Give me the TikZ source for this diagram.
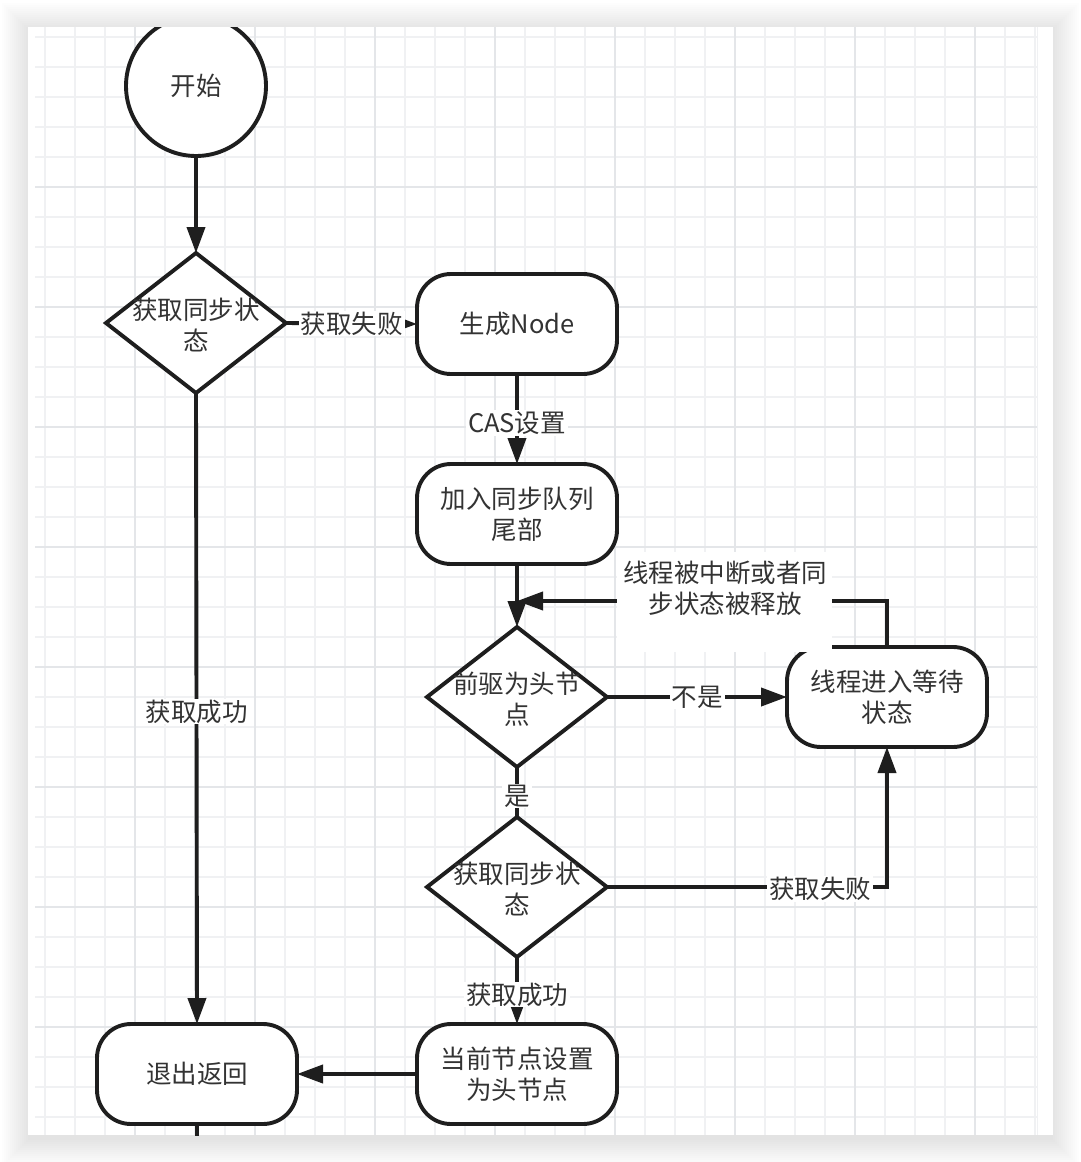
\documentclass[tikz,border=0pt]{standalone}
\usepackage{fontspec}
\setmainfont{Noto Sans CJK SC}
\usetikzlibrary{arrows.meta,shapes.geometric}
\definecolor{linec}{HTML}{1E1E1E}
\definecolor{textc}{HTML}{333333}
\definecolor{gridminor}{HTML}{F0F1F3}
\definecolor{gridmajor}{HTML}{E4E6E9}
\tikzset{
  f/.style={font=\fontsize{25.5}{31}\selectfont},
  box/.style={f, draw=linec, line width=3.9pt, rounded corners=34pt, minimum width=200pt, minimum height=100pt, fill=white, inner sep=0pt, outer sep=0pt, align=center, text=textc},
  dec/.style={draw=linec, line width=3.9pt, shape=diamond, minimum width=180pt, minimum height=140pt, inner sep=0pt, outer sep=0pt, fill=white},
  startc/.style={f, draw=linec, line width=3.9pt, circle, minimum size=140pt, inner sep=0pt, outer sep=0pt, fill=white, text=textc},
  txt/.style={f, text=textc, align=center, inner sep=0pt},
  conn/.style={draw=linec, line width=3.9pt, -{Triangle[length=26pt,width=18pt]}},
  plain/.style={draw=linec, line width=3.9pt},
  lab/.style={f, fill=white, text=textc, inner xsep=2pt, inner ysep=1pt, align=center}
}
\begin{document}
\begin{tikzpicture}[x=1pt,y=-1pt]
\useasboundingbox (0,0) rectangle (1080,1162);
\fill[white] (0,0) rectangle (1080,1162);
% shadow
\foreach \i in {0,...,13} {
  \fill[black, opacity=0.008] (28-2*\i, 29-2*\i) rectangle (1053+2*\i, 1140+2*\i);
}
% frame
\fill[white] (28,27) rectangle (1053,1135);
\begin{scope}
\clip (35,27) rectangle (1037,1135);
\foreach \x in {45,75,...,1035} { \draw[gridminor, line width=1.4pt] (\x,27) -- (\x,1135); }
\foreach \y in {37,67,...,1135} { \draw[gridminor, line width=1.4pt] (35,\y) -- (1037,\y); }
\foreach \x in {135,255,...,1035} { \draw[gridmajor, line width=1.6pt] (\x,27) -- (\x,1135); }
\foreach \y in {187,307,...,1135} { \draw[gridmajor, line width=1.6pt] (35,\y) -- (1037,\y); }
\end{scope}
\draw[gridminor, line width=1pt] (1037,27) -- (1037,1135);

\begin{scope}
\clip (28,27) rectangle (1053,1135);
% nodes
\node[startc] (start) at (196,86) {开始};
\node[dec] (dec1) at (196,323) {};
\node[txt] (t1) at (196,325) {获取同步状\\态};
\node[box] (gen) at (517,324) {生成Node};
\node[box] (join) at (517,514) {加入同步队列\\尾部};
\node[dec] (dec2) at (517,697) {};
\node[txt] (t2) at (517,699) {前驱为头节\\点};
\node[box] (wait) at (887,697) {线程进入等待\\状态};
\node[dec] (dec3) at (517,887) {};
\node[txt] (t3) at (517,889) {获取同步状\\态};
\node[box] (head) at (517,1074) {当前节点设置\\为头节点};
\node[box] (exit) at (197,1074) {退出返回};
\coordinate (j) at (517,601);
\coordinate (down) at (197,1150);

% connectors
\draw[conn] (start) -- (dec1.north);
\draw[conn] (dec1.east) -- node[lab] (l1) {获取失败} (gen.west);
\draw[conn] (gen) -- node[lab, yshift=-4pt] (l2) {CAS设置} (join);
\draw[conn] (join) -- (dec2.north);
\draw[conn] (dec2.east) -- node[lab] (l3) {不是} (wait.west);
\draw[conn] (wait.north) |- (j);
\draw[plain] (dec2.south) -- node[lab, yshift=-4pt] (l4) {是} (dec3.north);
\draw[conn] (dec3.east) -| (wait.south);
\node[lab] (l5) at (820,889) {获取失败};
\draw[conn] (dec3.south) -- node[lab, yshift=-4pt] (l6) {获取成功} (head.north);
\draw[conn] (head.west) -- (exit.east);
\draw[conn] (dec1.south) -- node[lab, yshift=-3pt] (l7) {获取成功} (exit.north);
\draw[plain] (exit.south) -- (down);
% label of the feedback edge
\fill[white] (617,552) rectangle (832,652);
\node[txt] (l8) at (725,588) {线程被中断或者同\\步状态被释放};
\end{scope}
\end{tikzpicture}
\end{document}
